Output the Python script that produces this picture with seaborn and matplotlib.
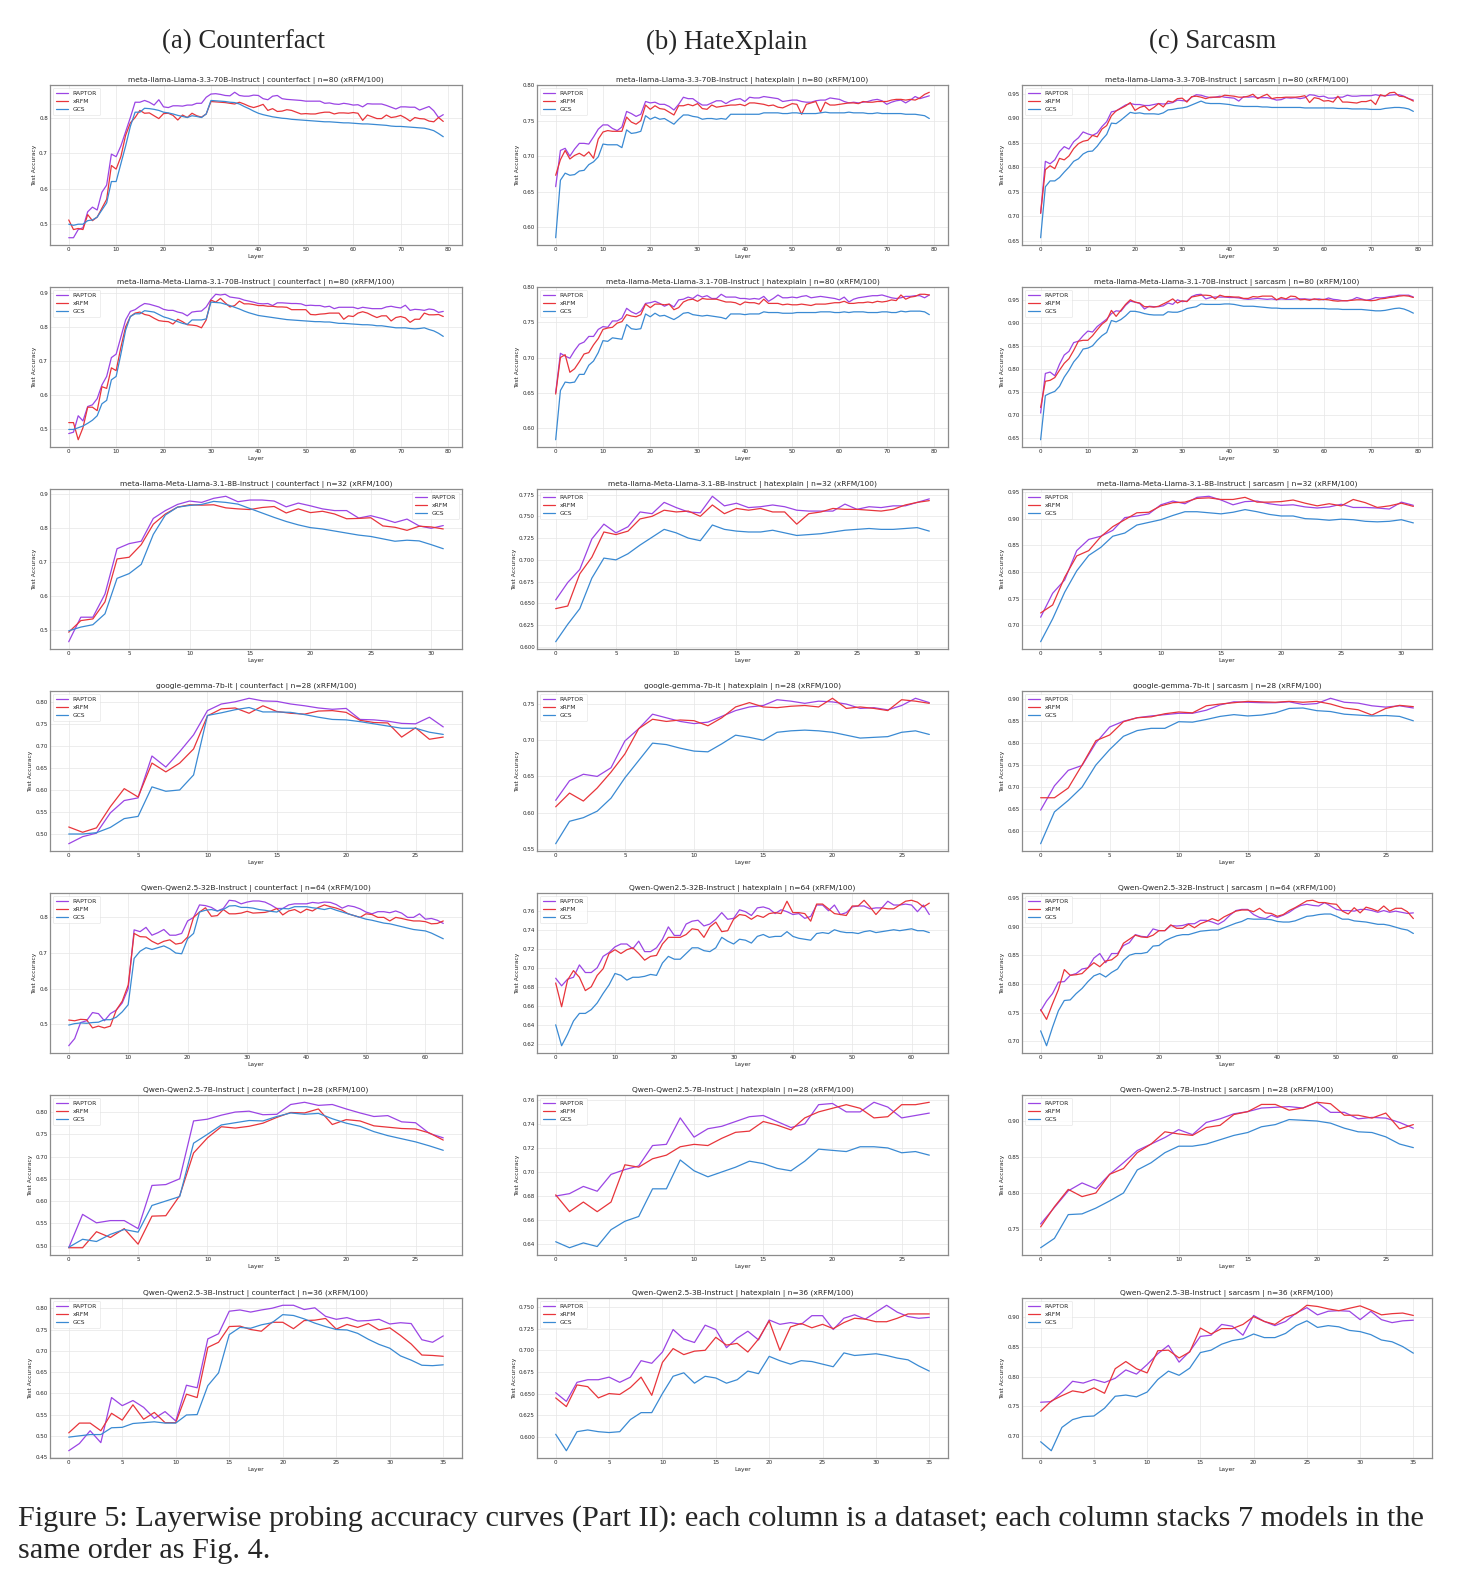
import numpy as np
import matplotlib
matplotlib.use("Agg")
import matplotlib.pyplot as plt
from matplotlib.ticker import MultipleLocator
import seaborn as sns

sns.set_style("whitegrid")
plt.rcParams['font.family'] = ['DejaVu Sans']

# figure layout (pixels at dpi 100)
W, H = 1458, 1584

models = ["meta-llama-Llama-3.3-70B-Instruct",
          "meta-llama-Meta-Llama-3.1-70B-Instruct",
          "meta-llama-Meta-Llama-3.1-8B-Instruct",
          "google-gemma-7b-it",
          "Qwen-Qwen2.5-32B-Instruct",
          "Qwen-Qwen2.5-7B-Instruct",
          "Qwen-Qwen2.5-3B-Instruct"]
n_layers = [80, 80, 32, 28, 64, 28, 36]
datasets = ["counterfact", "hatexplain", "sarcasm"]
col_titles = ["(a) Counterfact", "(b) HateXplain", "(c) Sarcasm"]
methods = ["RAPTOR", "xRFM", "GCS"]
colors = {"RAPTOR": "#9b45e4", "xRFM": "#e8353b", "GCS": "#3a8ad3"}

# tick spacing per panel (x per model row, y per dataset column / model row)
x_step = [10, 10, 5, 5, 10, 5, 5]
y_step = [[0.1, 0.1, 0.1, 0.05, 0.1, 0.05, 0.05],
          [0.05, 0.05, 0.025, 0.05, 0.02, 0.02, 0.025],
          [0.05, 0.05, 0.05, 0.05, 0.05, 0.05, 0.05]]

# ---------------- counterfact ----------------
cf_l33_70b_raptor = [0.462, 0.462, 0.485, 0.490, 0.535, 0.548, 0.540, 0.590, 0.610, 0.697,
                     0.690, 0.720, 0.760, 0.800, 0.843, 0.843, 0.848, 0.843, 0.835, 0.850,
                     0.830, 0.828, 0.833, 0.833, 0.832, 0.835, 0.835, 0.840, 0.840, 0.857,
                     0.866, 0.867, 0.865, 0.862, 0.861, 0.871, 0.862, 0.860, 0.860, 0.863,
                     0.862, 0.853, 0.850, 0.860, 0.862, 0.853, 0.851, 0.850, 0.849, 0.848,
                     0.846, 0.846, 0.846, 0.846, 0.840, 0.841, 0.838, 0.837, 0.840, 0.838,
                     0.835, 0.836, 0.830, 0.839, 0.838, 0.838, 0.838, 0.834, 0.829, 0.824,
                     0.830, 0.830, 0.829, 0.829, 0.821, 0.826, 0.831, 0.819, 0.800, 0.808]
cf_l33_70b_xrfm = [0.512, 0.485, 0.488, 0.485, 0.527, 0.510, 0.520, 0.545, 0.570, 0.665,
                   0.655, 0.690, 0.750, 0.785, 0.800, 0.820, 0.812, 0.813, 0.805, 0.797,
                   0.811, 0.812, 0.806, 0.793, 0.807, 0.800, 0.812, 0.805, 0.801, 0.810,
                   0.845, 0.844, 0.843, 0.842, 0.840, 0.838, 0.843, 0.838, 0.832, 0.828,
                   0.832, 0.837, 0.820, 0.825, 0.817, 0.818, 0.822, 0.820, 0.815, 0.810,
                   0.811, 0.810, 0.810, 0.813, 0.815, 0.815, 0.810, 0.813, 0.813, 0.812,
                   0.814, 0.812, 0.792, 0.807, 0.802, 0.797, 0.797, 0.807, 0.800, 0.802,
                   0.806, 0.799, 0.790, 0.800, 0.797, 0.796, 0.790, 0.788, 0.800, 0.789]
cf_l33_70b_gcs = [0.500, 0.497, 0.500, 0.500, 0.510, 0.512, 0.520, 0.540, 0.560, 0.620,
                  0.620, 0.670, 0.720, 0.775, 0.815, 0.815, 0.826, 0.825, 0.823, 0.820,
                  0.815, 0.813, 0.810, 0.806, 0.803, 0.800, 0.805, 0.803, 0.800, 0.810,
                  0.848, 0.847, 0.846, 0.845, 0.843, 0.842, 0.838, 0.831, 0.825, 0.818,
                  0.812, 0.808, 0.805, 0.802, 0.800, 0.798, 0.797, 0.795, 0.794, 0.793,
                  0.792, 0.791, 0.790, 0.789, 0.788, 0.788, 0.787, 0.786, 0.785, 0.785,
                  0.784, 0.783, 0.782, 0.782, 0.781, 0.780, 0.779, 0.778, 0.776, 0.775,
                  0.775, 0.774, 0.773, 0.772, 0.771, 0.770, 0.767, 0.763, 0.755, 0.746]

cf_l31_70b_raptor = [0.488, 0.492, 0.540, 0.525, 0.567, 0.572, 0.590, 0.630, 0.655, 0.710,
                     0.720, 0.770, 0.820, 0.845, 0.850, 0.860, 0.868, 0.866, 0.862, 0.858,
                     0.851, 0.848, 0.848, 0.843, 0.840, 0.832, 0.843, 0.845, 0.846, 0.858,
                     0.880, 0.895, 0.893, 0.895, 0.887, 0.885, 0.883, 0.878, 0.875, 0.872,
                     0.868, 0.867, 0.868, 0.862, 0.870, 0.870, 0.869, 0.868, 0.868, 0.867,
                     0.862, 0.863, 0.862, 0.862, 0.858, 0.860, 0.853, 0.857, 0.857, 0.857,
                     0.857, 0.853, 0.857, 0.855, 0.853, 0.853, 0.853, 0.858, 0.860, 0.857,
                     0.855, 0.863, 0.848, 0.851, 0.850, 0.848, 0.852, 0.850, 0.842, 0.845]
cf_l31_70b_xrfm = [0.520, 0.520, 0.470, 0.505, 0.565, 0.565, 0.555, 0.625, 0.620, 0.680,
                   0.672, 0.740, 0.800, 0.830, 0.840, 0.843, 0.836, 0.833, 0.825, 0.818,
                   0.816, 0.815, 0.808, 0.822, 0.815, 0.806, 0.805, 0.803, 0.797, 0.820,
                   0.878, 0.872, 0.883, 0.870, 0.858, 0.862, 0.875, 0.867, 0.867, 0.865,
                   0.862, 0.862, 0.860, 0.860, 0.858, 0.858, 0.857, 0.850, 0.850, 0.850,
                   0.850, 0.836, 0.835, 0.837, 0.838, 0.840, 0.840, 0.840, 0.822, 0.832,
                   0.830, 0.840, 0.844, 0.840, 0.833, 0.827, 0.832, 0.832, 0.817, 0.827,
                   0.830, 0.826, 0.813, 0.822, 0.822, 0.840, 0.835, 0.835, 0.836, 0.830]
cf_l31_70b_gcs = [0.500, 0.500, 0.505, 0.510, 0.518, 0.527, 0.540, 0.575, 0.585, 0.645,
                  0.655, 0.720, 0.790, 0.830, 0.838, 0.838, 0.847, 0.845, 0.843, 0.836,
                  0.829, 0.825, 0.820, 0.815, 0.810, 0.807, 0.820, 0.820, 0.820, 0.823,
                  0.872, 0.871, 0.870, 0.866, 0.862, 0.857, 0.852, 0.846, 0.841, 0.837,
                  0.833, 0.831, 0.829, 0.827, 0.825, 0.823, 0.821, 0.820, 0.819, 0.818,
                  0.817, 0.816, 0.815, 0.815, 0.814, 0.814, 0.812, 0.810, 0.810, 0.809,
                  0.808, 0.807, 0.806, 0.806, 0.805, 0.803, 0.803, 0.801, 0.799, 0.797,
                  0.797, 0.797, 0.795, 0.794, 0.795, 0.797, 0.792, 0.788, 0.781, 0.772]

cf_l31_8b_raptor = [0.465, 0.537, 0.537, 0.605, 0.738, 0.753, 0.760, 0.827, 0.850, 0.868,
                    0.878, 0.874, 0.886, 0.892, 0.876, 0.881, 0.881, 0.878, 0.861, 0.872,
                    0.864, 0.855, 0.850, 0.850, 0.828, 0.835, 0.826, 0.815, 0.825, 0.805,
                    0.798, 0.806]
cf_l31_8b_xrfm = [0.493, 0.527, 0.532, 0.582, 0.708, 0.713, 0.750, 0.810, 0.840, 0.860,
                  0.867, 0.866, 0.867, 0.858, 0.855, 0.853, 0.859, 0.862, 0.843, 0.855,
                  0.844, 0.848, 0.840, 0.826, 0.827, 0.829, 0.805, 0.801, 0.792, 0.804,
                  0.802, 0.796]
cf_l31_8b_gcs = [0.497, 0.508, 0.515, 0.547, 0.651, 0.665, 0.692, 0.780, 0.837, 0.860,
                 0.865, 0.868, 0.877, 0.874, 0.869, 0.856, 0.843, 0.830, 0.818, 0.808,
                 0.800, 0.796, 0.790, 0.784, 0.778, 0.774, 0.767, 0.760, 0.763, 0.761,
                 0.750, 0.738]

cf_gemma_raptor = [0.478, 0.494, 0.502, 0.548, 0.576, 0.582, 0.677, 0.652, 0.687, 0.725,
                   0.780, 0.795, 0.800, 0.808, 0.802, 0.801, 0.795, 0.791, 0.786, 0.783,
                   0.785, 0.760, 0.759, 0.756, 0.751, 0.750, 0.765, 0.743]
cf_gemma_xrfm = [0.516, 0.504, 0.514, 0.562, 0.603, 0.584, 0.661, 0.641, 0.661, 0.693,
                 0.768, 0.784, 0.786, 0.774, 0.791, 0.778, 0.774, 0.772, 0.779, 0.780,
                 0.776, 0.758, 0.753, 0.752, 0.720, 0.741, 0.715, 0.720]
cf_gemma_gcs = [0.500, 0.500, 0.503, 0.515, 0.535, 0.540, 0.607, 0.597, 0.600, 0.634,
                0.769, 0.775, 0.782, 0.787, 0.777, 0.777, 0.776, 0.771, 0.765, 0.760,
                0.759, 0.755, 0.750, 0.745, 0.740, 0.740, 0.731, 0.726]

cf_q32b_raptor = [0.440, 0.460, 0.505, 0.510, 0.533, 0.530, 0.510, 0.530, 0.540, 0.560,
                  0.600, 0.765, 0.760, 0.772, 0.750, 0.757, 0.766, 0.750, 0.750, 0.755,
                  0.790, 0.800, 0.835, 0.833, 0.828, 0.818, 0.825, 0.848, 0.846, 0.838,
                  0.843, 0.846, 0.846, 0.843, 0.835, 0.825, 0.825, 0.835, 0.838, 0.838,
                  0.838, 0.842, 0.840, 0.843, 0.842, 0.836, 0.826, 0.833, 0.830, 0.824,
                  0.815, 0.810, 0.816, 0.816, 0.813, 0.818, 0.812, 0.800, 0.800, 0.810,
                  0.795, 0.797, 0.792, 0.783]
cf_q32b_xrfm = [0.512, 0.510, 0.514, 0.513, 0.490, 0.495, 0.490, 0.495, 0.540, 0.565,
                0.610, 0.755, 0.746, 0.745, 0.733, 0.725, 0.733, 0.737, 0.725, 0.728,
                0.745, 0.800, 0.815, 0.827, 0.803, 0.805, 0.822, 0.810, 0.810, 0.812,
                0.817, 0.812, 0.813, 0.814, 0.818, 0.825, 0.807, 0.818, 0.822, 0.813,
                0.823, 0.818, 0.828, 0.835, 0.830, 0.826, 0.820, 0.810, 0.805, 0.800,
                0.810, 0.808, 0.800, 0.800, 0.790, 0.800, 0.797, 0.793, 0.790, 0.790,
                0.788, 0.782, 0.783, 0.790]
cf_q32b_gcs = [0.498, 0.502, 0.504, 0.503, 0.505, 0.506, 0.513, 0.513, 0.520, 0.535,
               0.555, 0.685, 0.705, 0.715, 0.710, 0.715, 0.720, 0.712, 0.700, 0.698,
               0.740, 0.755, 0.815, 0.820, 0.822, 0.818, 0.822, 0.832, 0.833, 0.828,
               0.828, 0.826, 0.822, 0.820, 0.817, 0.815, 0.825, 0.824, 0.830, 0.830,
               0.830, 0.827, 0.825, 0.822, 0.826, 0.820, 0.815, 0.810, 0.805, 0.800,
               0.795, 0.792, 0.788, 0.784, 0.782, 0.778, 0.774, 0.770, 0.766, 0.764,
               0.762, 0.756, 0.748, 0.740]

cf_q7b_raptor = [0.495, 0.570, 0.551, 0.556, 0.556, 0.538, 0.635, 0.637, 0.650, 0.780,
                 0.784, 0.793, 0.800, 0.802, 0.794, 0.795, 0.817, 0.822, 0.815, 0.817,
                 0.807, 0.798, 0.790, 0.792, 0.778, 0.776, 0.752, 0.742]
cf_q7b_xrfm = [0.495, 0.495, 0.531, 0.518, 0.538, 0.503, 0.566, 0.567, 0.612, 0.708,
               0.742, 0.767, 0.764, 0.768, 0.775, 0.788, 0.799, 0.798, 0.807, 0.772,
               0.783, 0.780, 0.769, 0.766, 0.763, 0.762, 0.753, 0.737]
cf_q7b_gcs = [0.496, 0.514, 0.509, 0.525, 0.536, 0.530, 0.590, 0.600, 0.610, 0.730,
              0.750, 0.771, 0.776, 0.781, 0.780, 0.790, 0.798, 0.795, 0.797, 0.785,
              0.775, 0.768, 0.756, 0.747, 0.740, 0.733, 0.724, 0.714]

cf_q3b_raptor = [0.465, 0.482, 0.512, 0.484, 0.590, 0.571, 0.583, 0.567, 0.541, 0.557,
                 0.535, 0.619, 0.613, 0.728, 0.740, 0.793, 0.796, 0.791, 0.796, 0.800,
                 0.807, 0.807, 0.797, 0.801, 0.781, 0.774, 0.778, 0.770, 0.771, 0.774,
                 0.763, 0.766, 0.764, 0.726, 0.720, 0.735]
cf_q3b_xrfm = [0.507, 0.530, 0.530, 0.512, 0.553, 0.537, 0.573, 0.539, 0.555, 0.531,
               0.531, 0.598, 0.590, 0.708, 0.720, 0.757, 0.758, 0.750, 0.746, 0.767,
               0.767, 0.752, 0.771, 0.772, 0.776, 0.751, 0.762, 0.755, 0.764, 0.749,
               0.754, 0.736, 0.716, 0.690, 0.689, 0.687]
cf_q3b_gcs = [0.497, 0.500, 0.503, 0.503, 0.519, 0.520, 0.529, 0.531, 0.533, 0.530,
              0.530, 0.549, 0.550, 0.618, 0.648, 0.738, 0.755, 0.753, 0.761, 0.766,
              0.785, 0.783, 0.775, 0.765, 0.757, 0.750, 0.749, 0.741, 0.727, 0.715,
              0.706, 0.688, 0.678, 0.666, 0.665, 0.667]

# ---------------- hatexplain ----------------
hx_l33_70b_raptor = [0.657, 0.708, 0.711, 0.700, 0.710, 0.718, 0.718, 0.717, 0.727, 0.738,
                     0.744, 0.744, 0.739, 0.736, 0.741, 0.763, 0.760, 0.756, 0.759, 0.777,
                     0.775, 0.776, 0.773, 0.773, 0.770, 0.765, 0.773, 0.783, 0.781, 0.781,
                     0.776, 0.772, 0.772, 0.775, 0.778, 0.778, 0.774, 0.778, 0.780, 0.781,
                     0.777, 0.783, 0.782, 0.782, 0.784, 0.783, 0.782, 0.781, 0.777, 0.778,
                     0.779, 0.779, 0.777, 0.776, 0.776, 0.778, 0.779, 0.779, 0.782, 0.781,
                     0.780, 0.777, 0.775, 0.776, 0.775, 0.776, 0.777, 0.779, 0.780, 0.778,
                     0.773, 0.776, 0.778, 0.779, 0.775, 0.779, 0.784, 0.781, 0.783, 0.785]
hx_l33_70b_xrfm = [0.673, 0.695, 0.708, 0.696, 0.701, 0.704, 0.700, 0.706, 0.697, 0.724,
                   0.734, 0.736, 0.735, 0.735, 0.735, 0.755, 0.748, 0.745, 0.750, 0.772,
                   0.766, 0.771, 0.767, 0.766, 0.762, 0.758, 0.771, 0.771, 0.773, 0.771,
                   0.774, 0.767, 0.766, 0.772, 0.769, 0.770, 0.771, 0.772, 0.772, 0.773,
                   0.771, 0.775, 0.775, 0.774, 0.773, 0.771, 0.772, 0.769, 0.768, 0.771,
                   0.774, 0.773, 0.759, 0.773, 0.775, 0.777, 0.762, 0.776, 0.772, 0.772,
                   0.773, 0.774, 0.775, 0.775, 0.774, 0.777, 0.776, 0.776, 0.777, 0.777,
                   0.777, 0.779, 0.780, 0.780, 0.779, 0.780, 0.779, 0.782, 0.787, 0.790]
hx_l33_70b_gcs = [0.585, 0.666, 0.676, 0.673, 0.674, 0.679, 0.680, 0.688, 0.692, 0.699,
                  0.717, 0.716, 0.716, 0.716, 0.712, 0.737, 0.732, 0.733, 0.735, 0.757,
                  0.752, 0.755, 0.752, 0.753, 0.749, 0.745, 0.752, 0.758, 0.758, 0.756,
                  0.755, 0.752, 0.753, 0.753, 0.752, 0.753, 0.752, 0.759, 0.759, 0.759,
                  0.759, 0.759, 0.759, 0.759, 0.761, 0.761, 0.761, 0.761, 0.760, 0.760,
                  0.761, 0.761, 0.760, 0.760, 0.760, 0.760, 0.761, 0.762, 0.761, 0.761,
                  0.761, 0.761, 0.762, 0.761, 0.761, 0.761, 0.760, 0.760, 0.761, 0.760,
                  0.760, 0.760, 0.760, 0.760, 0.759, 0.759, 0.759, 0.758, 0.757, 0.753]

hx_l31_70b_raptor = [0.650, 0.706, 0.702, 0.699, 0.710, 0.719, 0.722, 0.730, 0.730, 0.740,
                     0.744, 0.743, 0.752, 0.752, 0.756, 0.770, 0.765, 0.762, 0.766, 0.777,
                     0.778, 0.780, 0.777, 0.773, 0.776, 0.772, 0.782, 0.783, 0.786, 0.784,
                     0.789, 0.786, 0.788, 0.784, 0.784, 0.790, 0.786, 0.786, 0.786, 0.784,
                     0.784, 0.783, 0.784, 0.783, 0.787, 0.780, 0.784, 0.789, 0.785, 0.785,
                     0.786, 0.785, 0.787, 0.788, 0.785, 0.786, 0.787, 0.786, 0.785, 0.784,
                     0.782, 0.786, 0.779, 0.783, 0.785, 0.786, 0.787, 0.788, 0.788, 0.789,
                     0.787, 0.785, 0.784, 0.785, 0.787, 0.787, 0.788, 0.788, 0.785, 0.789]
hx_l31_70b_xrfm = [0.648, 0.700, 0.704, 0.679, 0.684, 0.694, 0.705, 0.707, 0.718, 0.727,
                   0.740, 0.742, 0.743, 0.749, 0.751, 0.761, 0.759, 0.758, 0.761, 0.776,
                   0.771, 0.776, 0.776, 0.775, 0.776, 0.768, 0.771, 0.779, 0.782, 0.783,
                   0.780, 0.784, 0.783, 0.783, 0.783, 0.781, 0.779, 0.779, 0.778, 0.775,
                   0.779, 0.778, 0.778, 0.776, 0.783, 0.777, 0.777, 0.777, 0.775, 0.776,
                   0.775, 0.775, 0.776, 0.775, 0.774, 0.776, 0.776, 0.776, 0.777, 0.778,
                   0.778, 0.780, 0.777, 0.777, 0.778, 0.778, 0.779, 0.778, 0.780, 0.779,
                   0.780, 0.782, 0.781, 0.789, 0.783, 0.786, 0.787, 0.790, 0.790, 0.789]
hx_l31_70b_gcs = [0.583, 0.653, 0.665, 0.664, 0.665, 0.676, 0.676, 0.689, 0.695, 0.707,
                  0.724, 0.723, 0.728, 0.727, 0.726, 0.747, 0.741, 0.740, 0.741, 0.762,
                  0.758, 0.763, 0.759, 0.760, 0.757, 0.754, 0.758, 0.763, 0.764, 0.761,
                  0.760, 0.759, 0.760, 0.759, 0.758, 0.757, 0.755, 0.762, 0.762, 0.762,
                  0.761, 0.762, 0.762, 0.762, 0.765, 0.764, 0.764, 0.764, 0.763, 0.763,
                  0.763, 0.764, 0.764, 0.764, 0.764, 0.764, 0.765, 0.765, 0.765, 0.764,
                  0.764, 0.765, 0.764, 0.765, 0.765, 0.765, 0.764, 0.764, 0.764, 0.765,
                  0.765, 0.764, 0.764, 0.766, 0.765, 0.766, 0.766, 0.766, 0.765, 0.761]

hx_l31_8b_raptor = [0.654, 0.674, 0.689, 0.724, 0.741, 0.731, 0.738, 0.755, 0.753, 0.766,
                    0.760, 0.755, 0.754, 0.773, 0.762, 0.765, 0.760, 0.761, 0.763, 0.761,
                    0.757, 0.756, 0.756, 0.756, 0.764, 0.758, 0.761, 0.760, 0.762, 0.762,
                    0.766, 0.770]
hx_l31_8b_xrfm = [0.644, 0.647, 0.684, 0.703, 0.732, 0.729, 0.733, 0.747, 0.750, 0.757,
                  0.755, 0.756, 0.750, 0.763, 0.753, 0.759, 0.757, 0.759, 0.755, 0.755,
                  0.741, 0.753, 0.755, 0.759, 0.758, 0.758, 0.757, 0.756, 0.758, 0.763,
                  0.766, 0.768]
hx_l31_8b_gcs = [0.606, 0.626, 0.644, 0.679, 0.702, 0.700, 0.707, 0.717, 0.726, 0.735,
                 0.731, 0.725, 0.722, 0.740, 0.735, 0.733, 0.732, 0.732, 0.734, 0.731,
                 0.728, 0.729, 0.730, 0.732, 0.734, 0.735, 0.736, 0.735, 0.735, 0.736,
                 0.737, 0.733]

hx_gemma_raptor = [0.617, 0.644, 0.653, 0.650, 0.662, 0.699, 0.716, 0.736, 0.731, 0.726,
                   0.723, 0.725, 0.733, 0.741, 0.746, 0.748, 0.756, 0.754, 0.751, 0.754,
                   0.753, 0.750, 0.744, 0.745, 0.742, 0.748, 0.758, 0.752]
hx_gemma_xrfm = [0.608, 0.627, 0.616, 0.634, 0.656, 0.681, 0.716, 0.729, 0.726, 0.728,
                 0.727, 0.720, 0.731, 0.746, 0.752, 0.746, 0.745, 0.747, 0.748, 0.746,
                 0.758, 0.744, 0.746, 0.744, 0.741, 0.756, 0.754, 0.751]
hx_gemma_gcs = [0.557, 0.588, 0.593, 0.602, 0.620, 0.648, 0.672, 0.696, 0.694, 0.689,
                0.685, 0.684, 0.695, 0.707, 0.704, 0.700, 0.711, 0.713, 0.714, 0.713,
                0.711, 0.707, 0.703, 0.704, 0.705, 0.711, 0.713, 0.708]

hx_q32b_raptor = [0.689, 0.681, 0.688, 0.690, 0.703, 0.695, 0.695, 0.700, 0.712, 0.716,
                  0.722, 0.725, 0.725, 0.720, 0.728, 0.717, 0.717, 0.721, 0.730, 0.743,
                  0.734, 0.734, 0.746, 0.749, 0.750, 0.744, 0.746, 0.751, 0.758, 0.751,
                  0.752, 0.761, 0.759, 0.755, 0.763, 0.764, 0.762, 0.757, 0.761, 0.759,
                  0.756, 0.757, 0.752, 0.754, 0.766, 0.766, 0.760, 0.766, 0.756, 0.758,
                  0.764, 0.765, 0.765, 0.762, 0.763, 0.763, 0.770, 0.766, 0.766, 0.767,
                  0.766, 0.759, 0.766, 0.756]
hx_q32b_xrfm = [0.684, 0.659, 0.687, 0.697, 0.690, 0.676, 0.680, 0.692, 0.699, 0.715,
                0.719, 0.715, 0.719, 0.721, 0.715, 0.708, 0.712, 0.713, 0.725, 0.732,
                0.732, 0.732, 0.735, 0.741, 0.740, 0.732, 0.743, 0.748, 0.738, 0.739,
                0.751, 0.756, 0.755, 0.751, 0.755, 0.753, 0.757, 0.758, 0.757, 0.770,
                0.758, 0.758, 0.757, 0.749, 0.767, 0.767, 0.762, 0.757, 0.756, 0.755,
                0.765, 0.765, 0.771, 0.764, 0.756, 0.763, 0.762, 0.762, 0.766, 0.770,
                0.771, 0.769, 0.764, 0.768]
hx_q32b_gcs = [0.640, 0.618, 0.630, 0.644, 0.652, 0.652, 0.656, 0.663, 0.673, 0.682,
               0.694, 0.692, 0.687, 0.690, 0.690, 0.691, 0.693, 0.692, 0.705, 0.712,
               0.709, 0.709, 0.715, 0.721, 0.721, 0.718, 0.717, 0.721, 0.732, 0.728,
               0.725, 0.730, 0.729, 0.726, 0.733, 0.735, 0.732, 0.733, 0.733, 0.738,
               0.733, 0.731, 0.730, 0.729, 0.736, 0.737, 0.736, 0.740, 0.738, 0.737,
               0.737, 0.736, 0.738, 0.739, 0.737, 0.738, 0.739, 0.740, 0.739, 0.740,
               0.741, 0.739, 0.739, 0.737]

hx_q7b_raptor = [0.680, 0.682, 0.688, 0.684, 0.698, 0.702, 0.705, 0.722, 0.723, 0.745,
                 0.729, 0.736, 0.738, 0.742, 0.746, 0.747, 0.742, 0.737, 0.740, 0.756,
                 0.757, 0.750, 0.750, 0.758, 0.754, 0.745, 0.747, 0.749]
hx_q7b_xrfm = [0.681, 0.667, 0.675, 0.667, 0.675, 0.706, 0.704, 0.711, 0.714, 0.721,
               0.723, 0.722, 0.728, 0.733, 0.734, 0.742, 0.739, 0.735, 0.745, 0.750,
               0.753, 0.756, 0.753, 0.745, 0.746, 0.756, 0.756, 0.758]
hx_q7b_gcs = [0.642, 0.637, 0.641, 0.638, 0.652, 0.659, 0.663, 0.686, 0.686, 0.710,
              0.701, 0.696, 0.700, 0.704, 0.709, 0.707, 0.703, 0.701, 0.709, 0.719,
              0.718, 0.717, 0.721, 0.721, 0.720, 0.716, 0.717, 0.714]

hx_q3b_raptor = [0.651, 0.641, 0.663, 0.666, 0.666, 0.669, 0.663, 0.669, 0.688, 0.685,
                 0.698, 0.724, 0.713, 0.709, 0.729, 0.724, 0.703, 0.714, 0.722, 0.712,
                 0.735, 0.730, 0.732, 0.730, 0.740, 0.740, 0.724, 0.737, 0.741, 0.736,
                 0.744, 0.752, 0.744, 0.739, 0.737, 0.738]
hx_q3b_xrfm = [0.645, 0.635, 0.660, 0.658, 0.645, 0.650, 0.649, 0.657, 0.669, 0.648,
               0.686, 0.702, 0.695, 0.699, 0.700, 0.715, 0.706, 0.708, 0.698, 0.713,
               0.734, 0.700, 0.727, 0.731, 0.726, 0.730, 0.725, 0.732, 0.737, 0.736,
               0.733, 0.733, 0.737, 0.742, 0.742, 0.742]
hx_q3b_gcs = [0.603, 0.584, 0.606, 0.608, 0.606, 0.605, 0.606, 0.620, 0.628, 0.628,
              0.650, 0.670, 0.674, 0.662, 0.670, 0.668, 0.662, 0.666, 0.676, 0.673,
              0.693, 0.688, 0.684, 0.688, 0.687, 0.684, 0.681, 0.697, 0.694, 0.695,
              0.696, 0.694, 0.691, 0.689, 0.682, 0.676]

# ---------------- sarcasm ----------------
sc_l33_70b_raptor = [0.706, 0.812, 0.807, 0.815, 0.832, 0.842, 0.837, 0.852, 0.860, 0.872,
                     0.868, 0.865, 0.870, 0.883, 0.893, 0.913, 0.915, 0.921, 0.927, 0.930,
                     0.928, 0.928, 0.926, 0.926, 0.928, 0.930, 0.929, 0.930, 0.932, 0.937,
                     0.936, 0.935, 0.943, 0.948, 0.947, 0.944, 0.942, 0.943, 0.945, 0.943,
                     0.942, 0.941, 0.935, 0.944, 0.943, 0.944, 0.942, 0.942, 0.942, 0.940,
                     0.937, 0.938, 0.942, 0.941, 0.942, 0.940, 0.942, 0.948, 0.947, 0.944,
                     0.945, 0.941, 0.941, 0.943, 0.943, 0.947, 0.945, 0.945, 0.946, 0.946,
                     0.946, 0.948, 0.946, 0.946, 0.947, 0.948, 0.948, 0.945, 0.940, 0.937]
sc_l33_70b_xrfm = [0.706, 0.795, 0.803, 0.797, 0.818, 0.815, 0.823, 0.838, 0.848, 0.853,
                   0.855, 0.865, 0.862, 0.878, 0.885, 0.905, 0.915, 0.920, 0.925, 0.932,
                   0.916, 0.922, 0.925, 0.916, 0.922, 0.930, 0.923, 0.935, 0.933, 0.940,
                   0.941, 0.933, 0.944, 0.945, 0.943, 0.940, 0.943, 0.943, 0.943, 0.947,
                   0.946, 0.945, 0.943, 0.943, 0.945, 0.949, 0.940, 0.945, 0.949, 0.940,
                   0.942, 0.942, 0.943, 0.943, 0.943, 0.944, 0.946, 0.932, 0.942, 0.940,
                   0.935, 0.936, 0.933, 0.945, 0.933, 0.933, 0.932, 0.931, 0.934, 0.934,
                   0.937, 0.928, 0.948, 0.945, 0.952, 0.953, 0.945, 0.944, 0.940, 0.935]
sc_l33_70b_gcs = [0.656, 0.760, 0.772, 0.772, 0.779, 0.790, 0.800, 0.812, 0.817, 0.827,
                  0.832, 0.833, 0.843, 0.856, 0.867, 0.890, 0.889, 0.896, 0.904, 0.912,
                  0.910, 0.911, 0.909, 0.909, 0.909, 0.908, 0.911, 0.917, 0.918, 0.920,
                  0.921, 0.923, 0.927, 0.931, 0.935, 0.931, 0.930, 0.930, 0.930, 0.929,
                  0.928, 0.926, 0.925, 0.924, 0.924, 0.924, 0.924, 0.923, 0.923, 0.922,
                  0.922, 0.922, 0.922, 0.922, 0.922, 0.922, 0.921, 0.921, 0.921, 0.921,
                  0.921, 0.921, 0.921, 0.920, 0.920, 0.920, 0.919, 0.919, 0.919, 0.919,
                  0.918, 0.918, 0.918, 0.920, 0.921, 0.922, 0.922, 0.921, 0.919, 0.914]

sc_l31_70b_raptor = [0.704, 0.790, 0.793, 0.785, 0.810, 0.830, 0.838, 0.857, 0.860, 0.872,
                     0.882, 0.880, 0.892, 0.900, 0.908, 0.920, 0.926, 0.925, 0.938, 0.947,
                     0.945, 0.942, 0.930, 0.936, 0.935, 0.935, 0.937, 0.943, 0.940, 0.950,
                     0.946, 0.947, 0.957, 0.961, 0.962, 0.952, 0.955, 0.956, 0.956, 0.956,
                     0.955, 0.955, 0.954, 0.952, 0.951, 0.952, 0.953, 0.952, 0.951, 0.952,
                     0.950, 0.952, 0.951, 0.951, 0.952, 0.952, 0.952, 0.951, 0.951, 0.952,
                     0.950, 0.954, 0.951, 0.950, 0.948, 0.948, 0.950, 0.955, 0.952, 0.949,
                     0.951, 0.955, 0.954, 0.955, 0.957, 0.958, 0.960, 0.960, 0.960, 0.956]
sc_l31_70b_xrfm = [0.716, 0.773, 0.775, 0.781, 0.797, 0.812, 0.822, 0.840, 0.860, 0.862,
                   0.862, 0.872, 0.885, 0.897, 0.905, 0.927, 0.914, 0.927, 0.940, 0.950,
                   0.945, 0.943, 0.935, 0.935, 0.934, 0.936, 0.941, 0.946, 0.952, 0.943,
                   0.948, 0.946, 0.956, 0.958, 0.960, 0.960, 0.959, 0.952, 0.960, 0.957,
                   0.957, 0.956, 0.956, 0.953, 0.953, 0.957, 0.956, 0.958, 0.958, 0.958,
                   0.950, 0.955, 0.952, 0.958, 0.957, 0.950, 0.951, 0.949, 0.952, 0.950,
                   0.951, 0.950, 0.948, 0.947, 0.948, 0.948, 0.949, 0.950, 0.950, 0.949,
                   0.948, 0.949, 0.952, 0.953, 0.955, 0.956, 0.958, 0.959, 0.958, 0.955]
sc_l31_70b_gcs = [0.646, 0.742, 0.747, 0.751, 0.762, 0.782, 0.797, 0.815, 0.827, 0.843,
                  0.845, 0.850, 0.862, 0.872, 0.879, 0.905, 0.902, 0.907, 0.915, 0.925,
                  0.925, 0.923, 0.920, 0.918, 0.917, 0.917, 0.917, 0.924, 0.923, 0.923,
                  0.926, 0.931, 0.933, 0.935, 0.941, 0.940, 0.940, 0.940, 0.940, 0.941,
                  0.941, 0.940, 0.938, 0.936, 0.936, 0.936, 0.935, 0.934, 0.933, 0.932,
                  0.932, 0.931, 0.931, 0.931, 0.931, 0.931, 0.931, 0.931, 0.931, 0.931,
                  0.931, 0.930, 0.930, 0.930, 0.929, 0.929, 0.929, 0.929, 0.929, 0.928,
                  0.927, 0.926, 0.926, 0.927, 0.929, 0.931, 0.932, 0.930, 0.926, 0.921]

sc_l31_8b_raptor = [0.715, 0.760, 0.785, 0.840, 0.861, 0.867, 0.878, 0.902, 0.905, 0.909,
                    0.926, 0.933, 0.928, 0.940, 0.942, 0.935, 0.926, 0.932, 0.933, 0.928,
                    0.925, 0.926, 0.922, 0.920, 0.922, 0.927, 0.921, 0.921, 0.920, 0.918,
                    0.931, 0.925]
sc_l31_8b_xrfm = [0.723, 0.738, 0.790, 0.830, 0.840, 0.866, 0.885, 0.898, 0.911, 0.912,
                  0.924, 0.930, 0.931, 0.938, 0.939, 0.936, 0.936, 0.940, 0.931, 0.931,
                  0.932, 0.935, 0.929, 0.924, 0.928, 0.924, 0.936, 0.930, 0.921, 0.924,
                  0.929, 0.923]
sc_l31_8b_gcs = [0.669, 0.712, 0.762, 0.802, 0.831, 0.846, 0.867, 0.873, 0.888, 0.893,
                 0.898, 0.906, 0.913, 0.913, 0.911, 0.909, 0.912, 0.917, 0.913, 0.908,
                 0.905, 0.905, 0.900, 0.899, 0.897, 0.899, 0.898, 0.895, 0.894, 0.895,
                 0.898, 0.892]

sc_gemma_raptor = [0.648, 0.703, 0.738, 0.749, 0.800, 0.836, 0.849, 0.857, 0.861, 0.864,
                   0.867, 0.867, 0.874, 0.886, 0.893, 0.892, 0.891, 0.891, 0.893, 0.887,
                   0.889, 0.901, 0.892, 0.890, 0.884, 0.881, 0.884, 0.879]
sc_gemma_xrfm = [0.676, 0.676, 0.698, 0.750, 0.805, 0.818, 0.848, 0.857, 0.859, 0.866,
                 0.870, 0.868, 0.884, 0.888, 0.891, 0.894, 0.893, 0.892, 0.894, 0.892,
                 0.894, 0.888, 0.879, 0.875, 0.863, 0.878, 0.885, 0.882]
sc_gemma_gcs = [0.572, 0.644, 0.670, 0.700, 0.750, 0.785, 0.815, 0.828, 0.833, 0.833,
                0.848, 0.847, 0.853, 0.860, 0.864, 0.861, 0.863, 0.868, 0.878, 0.879,
                0.873, 0.871, 0.865, 0.863, 0.861, 0.862, 0.860, 0.850]

sc_q32b_raptor = [0.753, 0.770, 0.783, 0.803, 0.804, 0.815, 0.818, 0.826, 0.828, 0.845,
                  0.853, 0.837, 0.853, 0.853, 0.867, 0.872, 0.886, 0.883, 0.882, 0.896,
                  0.893, 0.893, 0.902, 0.901, 0.902, 0.905, 0.905, 0.911, 0.911, 0.908,
                  0.904, 0.910, 0.920, 0.928, 0.930, 0.930, 0.921, 0.916, 0.914, 0.920,
                  0.916, 0.920, 0.925, 0.932, 0.937, 0.939, 0.937, 0.936, 0.942, 0.936,
                  0.930, 0.928, 0.928, 0.927, 0.930, 0.930, 0.928, 0.925, 0.928, 0.925,
                  0.927, 0.925, 0.923, 0.924]
sc_q32b_xrfm = [0.755, 0.738, 0.765, 0.790, 0.825, 0.815, 0.816, 0.818, 0.828, 0.837,
                0.830, 0.840, 0.842, 0.850, 0.871, 0.878, 0.885, 0.882, 0.881, 0.885,
                0.893, 0.893, 0.903, 0.897, 0.897, 0.904, 0.898, 0.905, 0.909, 0.914,
                0.910, 0.917, 0.922, 0.927, 0.929, 0.929, 0.926, 0.932, 0.924, 0.923,
                0.918, 0.921, 0.928, 0.933, 0.939, 0.945, 0.946, 0.942, 0.942, 0.940,
                0.939, 0.927, 0.922, 0.933, 0.924, 0.934, 0.931, 0.927, 0.936, 0.927,
                0.932, 0.932, 0.926, 0.914]
sc_q32b_gcs = [0.718, 0.692, 0.724, 0.753, 0.771, 0.772, 0.783, 0.792, 0.804, 0.814,
               0.818, 0.812, 0.820, 0.826, 0.841, 0.850, 0.853, 0.853, 0.855, 0.866,
               0.867, 0.875, 0.880, 0.884, 0.886, 0.886, 0.889, 0.892, 0.893, 0.894,
               0.894, 0.898, 0.902, 0.906, 0.909, 0.914, 0.913, 0.913, 0.913, 0.912,
               0.909, 0.908, 0.908, 0.910, 0.914, 0.918, 0.919, 0.921, 0.922, 0.922,
               0.918, 0.913, 0.913, 0.910, 0.909, 0.908, 0.906, 0.904, 0.904, 0.902,
               0.899, 0.896, 0.894, 0.888]

sc_q7b_raptor = [0.757, 0.780, 0.803, 0.814, 0.806, 0.826, 0.842, 0.859, 0.868, 0.877,
                 0.888, 0.881, 0.898, 0.903, 0.910, 0.913, 0.918, 0.919, 0.920, 0.918,
                 0.926, 0.912, 0.912, 0.903, 0.905, 0.904, 0.898, 0.890]
sc_q7b_xrfm = [0.753, 0.781, 0.805, 0.795, 0.800, 0.826, 0.834, 0.856, 0.868, 0.885,
               0.882, 0.880, 0.891, 0.894, 0.909, 0.913, 0.923, 0.923, 0.915, 0.918,
               0.926, 0.924, 0.908, 0.908, 0.904, 0.911, 0.889, 0.895]
sc_q7b_gcs = [0.724, 0.737, 0.770, 0.771, 0.779, 0.789, 0.800, 0.832, 0.842, 0.856,
              0.865, 0.865, 0.868, 0.874, 0.880, 0.884, 0.892, 0.895, 0.902, 0.901,
              0.900, 0.897, 0.890, 0.885, 0.884, 0.878, 0.868, 0.863]

sc_q3b_raptor = [0.757, 0.758, 0.774, 0.792, 0.789, 0.795, 0.790, 0.797, 0.811, 0.804,
                 0.820, 0.838, 0.852, 0.824, 0.842, 0.867, 0.869, 0.887, 0.884, 0.869,
                 0.902, 0.892, 0.885, 0.892, 0.906, 0.915, 0.903, 0.909, 0.910, 0.909,
                 0.895, 0.909, 0.895, 0.890, 0.893, 0.894]
sc_q3b_xrfm = [0.742, 0.759, 0.768, 0.776, 0.773, 0.781, 0.772, 0.813, 0.825, 0.813,
               0.806, 0.843, 0.844, 0.831, 0.841, 0.881, 0.871, 0.880, 0.880, 0.887,
               0.900, 0.892, 0.887, 0.899, 0.905, 0.919, 0.917, 0.913, 0.910, 0.914,
               0.918, 0.911, 0.903, 0.905, 0.906, 0.902]
sc_q3b_gcs = [0.691, 0.676, 0.715, 0.728, 0.733, 0.734, 0.747, 0.767, 0.769, 0.766,
              0.774, 0.795, 0.809, 0.802, 0.814, 0.840, 0.844, 0.854, 0.860, 0.863,
              0.871, 0.865, 0.865, 0.872, 0.885, 0.893, 0.882, 0.885, 0.883, 0.877,
              0.875, 0.870, 0.861, 0.858, 0.850, 0.839]

# (dataset column, model row) -> (RAPTOR, xRFM, GCS)
runs = {
    (0, 0): (cf_l33_70b_raptor, cf_l33_70b_xrfm, cf_l33_70b_gcs),
    (0, 1): (cf_l31_70b_raptor, cf_l31_70b_xrfm, cf_l31_70b_gcs),
    (0, 2): (cf_l31_8b_raptor, cf_l31_8b_xrfm, cf_l31_8b_gcs),
    (0, 3): (cf_gemma_raptor, cf_gemma_xrfm, cf_gemma_gcs),
    (0, 4): (cf_q32b_raptor, cf_q32b_xrfm, cf_q32b_gcs),
    (0, 5): (cf_q7b_raptor, cf_q7b_xrfm, cf_q7b_gcs),
    (0, 6): (cf_q3b_raptor, cf_q3b_xrfm, cf_q3b_gcs),
    (1, 0): (hx_l33_70b_raptor, hx_l33_70b_xrfm, hx_l33_70b_gcs),
    (1, 1): (hx_l31_70b_raptor, hx_l31_70b_xrfm, hx_l31_70b_gcs),
    (1, 2): (hx_l31_8b_raptor, hx_l31_8b_xrfm, hx_l31_8b_gcs),
    (1, 3): (hx_gemma_raptor, hx_gemma_xrfm, hx_gemma_gcs),
    (1, 4): (hx_q32b_raptor, hx_q32b_xrfm, hx_q32b_gcs),
    (1, 5): (hx_q7b_raptor, hx_q7b_xrfm, hx_q7b_gcs),
    (1, 6): (hx_q3b_raptor, hx_q3b_xrfm, hx_q3b_gcs),
    (2, 0): (sc_l33_70b_raptor, sc_l33_70b_xrfm, sc_l33_70b_gcs),
    (2, 1): (sc_l31_70b_raptor, sc_l31_70b_xrfm, sc_l31_70b_gcs),
    (2, 2): (sc_l31_8b_raptor, sc_l31_8b_xrfm, sc_l31_8b_gcs),
    (2, 3): (sc_gemma_raptor, sc_gemma_xrfm, sc_gemma_gcs),
    (2, 4): (sc_q32b_raptor, sc_q32b_xrfm, sc_q32b_gcs),
    (2, 5): (sc_q7b_raptor, sc_q7b_xrfm, sc_q7b_gcs),
    (2, 6): (sc_q3b_raptor, sc_q3b_xrfm, sc_q3b_gcs),
}

fig = plt.figure(figsize=(W / 100, H / 100), dpi=100)

col_left = [50, 537, 1022]
col_width = [412, 411, 410]
row_top = [85, 287, 489, 691, 893, 1095, 1298]
ax_h = 160

for c, ds in enumerate(datasets):
    for r, model in enumerate(models):
        ax = fig.add_axes([col_left[c] / W, 1 - (row_top[r] + ax_h) / H,
                           col_width[c] / W, ax_h / H])
        for m, vals in zip(methods, runs[(c, r)]):
            sns.lineplot(x=np.arange(len(vals)), y=vals, ax=ax, color=colors[m],
                         label=m, linewidth=0.9)
        ax.xaxis.set_major_locator(MultipleLocator(x_step[r]))
        ax.yaxis.set_major_locator(MultipleLocator(y_step[c][r]))
        ax.set_title(f"{model} | {ds} | n={n_layers[r]} (xRFM/100)", fontsize=5.4, pad=2.5)
        ax.set_xlabel("Layer", fontsize=4.3, labelpad=1.5)
        ax.set_ylabel("Test Accuracy", fontsize=4.3, labelpad=1.5)
        ax.tick_params(labelsize=4.1, pad=1.5, length=0)
        ax.grid(True, color="0.9", linewidth=0.5)
        for sp in ax.spines.values():
            sp.set_color("0.55")
            sp.set_linewidth(0.9)
        loc = "upper right" if (c, r) == (0, 2) else "upper left"
        leg = ax.legend(loc=loc, fontsize=4.3, frameon=True, handlelength=2.0,
                        borderpad=0.5, labelspacing=0.45)
        leg.get_frame().set_linewidth(0.4)
        leg.get_frame().set_edgecolor("0.85")

serif = ["Liberation Serif", "DejaVu Serif"]
title_x = [243, 727, 1213]
for c, t in enumerate(col_titles):
    fig.text(title_x[c] / W, 1 - 42 / H, t, ha="center", va="center",
             fontsize=19.4, family=serif)

fig.text(18 / W, 1 - 1519 / H,
         "Figure 5: Layerwise probing accuracy curves (Part II): each column is a dataset; "
         "each column stacks 7 models in the",
         ha="left", va="center", fontsize=21.8, family=serif)
fig.text(18 / W, 1 - 1551 / H, "same order as Fig. 4.",
         ha="left", va="center", fontsize=21.8, family=serif)

fig.savefig("out.png", dpi=100)
